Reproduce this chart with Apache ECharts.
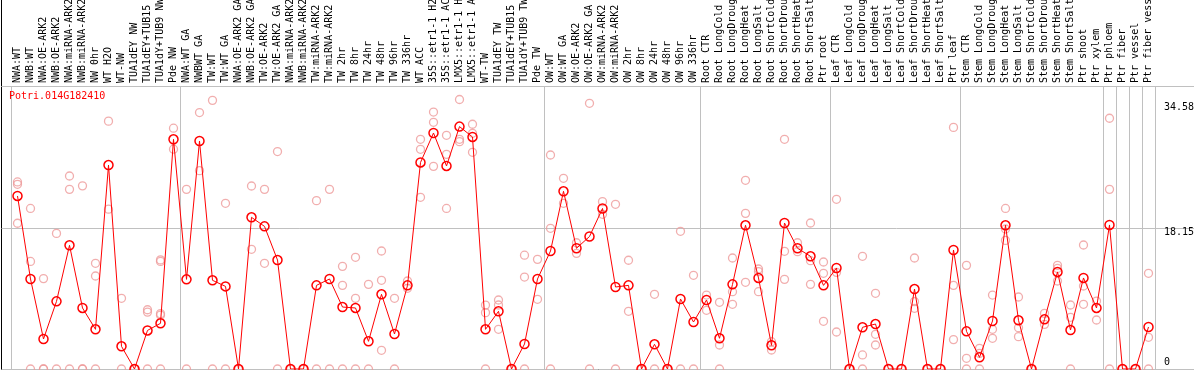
<!DOCTYPE html>
<html>
<head>
<meta charset="utf-8">
<script src="https://cdn.jsdelivr.net/npm/echarts@6/dist/echarts.min.js"></script>
<style>
html,body{margin:0;padding:0;background:#fff;}
#chart{width:1194px;height:370px;}
</style>
</head>
<body>
<div id="chart"></div>
<script>
const geneId = 'Potri.014G182410';

const categories = [
  'NWA:WT','NWB:WT','NWA:OE-ARK2','NWB:OE-ARK2','NWA:miRNA-ARK2','NWB:miRNA-ARK2','NW 0hr','WT H2O','WT-NW','TUA1dEY NW','TUA1dEY+TUB15 NW','TUA1dY+TUB9 NW','Pde NW',
  'NWA:WT GA','NWBWT GA','TW:WT','TW:WT GA','NWA:OE-ARK2 GA','NWB:OE-ARK2 GA','TW:OE-ARK2','TW:OE-ARK2 GA','NWA:miRNA-ARK2 GA','NWB:miRNA-ARK2 GA','TW:miRNA-ARK2','TW:miRNA-ARK2 GA',
  'TW 2hr','TW 8hr','TW 24hr','TW 48hr','TW 96hr','TW 336hr','WT ACC','35S::etr1-1 H2O','35S::etr1-1 ACC','LMX5::etr1-1 H2O','LMX5::etr1-1 ACC','WT-TW','TUA1dEY TW','TUA1dEY+TUB15 TW','TUA1dY+TUB9 TW','Pde TW',
  'OW:WT','OW:WT GA','OW:OE-ARK2','OW:OE-ARK2 GA','OW:miRNA-ARK2','OW:miRNA-ARK2 GA','OW 2hr','OW 8hr','OW 24hr','OW 48hr','OW 96hr','OW 336hr',
  'Root CTR','Root LongCold','Root LongDrought','Root LongHeat','Root LongSalt','Root ShortCold','Root ShortDrought','Root ShortHeat','Root ShortSalt','Ptr root',
  'Leaf CTR','Leaf LongCold','Leaf LongDrought','Leaf LongHeat','Leaf LongSalt','Leaf ShortCold','Leaf ShortDrought','Leaf ShortHeat','Leaf ShortSalt','Ptr leaf',
  'Stem CTR','Stem LongCold','Stem LongDrought','Stem LongHeat','Stem LongSalt','Stem ShortCold','Stem ShortDrought','Stem ShortHeat','Stem ShortSalt','Ptr shoot','Ptr xylem',
  'Ptr phloem','Ptr fiber','Ptr vessel','Ptr fiber vessel'
];

// index of the first category of each group (separators)
const groupStarts = [0, 13, 41, 53, 63, 73, 84, 85, 86, 87];

const meanValues = [
  22.2, 11.55, 3.85, 8.68, 15.87, 7.83, 5.09, 26.17, 2.91, 0, 4.95, 5.86, 29.47,
  11.5, 29.25, 11.38, 10.6, 0, 19.46, 18.3, 13.98, 0, 0, 10.73, 11.55, 7.95, 7.83, 3.55, 9.58, 4.49, 10.73, 26.5, 30.28, 26.05, 31.1, 29.77, 5.09, 7.4, 0, 3.21, 11.55,
  15.14, 22.8, 15.49, 17.0, 20.6, 10.52, 10.73, 0, 3.17, 0, 8.98, 6.03,
  8.85, 3.94, 10.86, 18.44, 11.68, 3.04, 18.73, 15.49, 14.46, 10.73,
  12.96, 0, 5.35, 5.77, 0, 0, 10.26, 0, 0, 15.27,
  4.83, 1.5, 6.16, 18.44, 6.25, 0, 6.37, 12.45, 5.0, 11.68, 7.83,
  18.48, 0, 0, 5.39
];

const replicateValues = [
  [24.0, 23.7, 18.7], [20.6, 13.8, 0], [11.6, 0, 0], [17.4, 0], [24.76, 23.05, 0], [23.5, 0, 0], [13.56, 11.93, 0], [31.8, 20.5], [9.07, 0], [0, 0],
  [7.6, 7.3, 0], [14.0, 13.8, 7.1, 6.9, 0], [30.9, 28.2],
  [23.05, 0], [32.9, 25.45], [34.47, 0], [21.26, 0], [0, 0], [23.48, 15.36], [23.05, 13.56], [27.9, 0], [0, 0], [0, 0], [21.6, 0], [23.05, 0],
  [13.17, 10.73, 0], [14.33, 9.07, 0], [10.86, 0], [15.14, 11.38, 2.4], [9.07, 0], [11.29, 10.35], [29.47, 28.19, 22.03], [32.97, 31.65, 26.0],
  [29.98, 27.54, 20.6], [34.58, 29.47, 29.17], [31.4, 30.24, 27.8], [8.2, 7.23, 0], [8.85, 8.21, 5.09], [0, 0], [14.6, 11.8, 0], [14.07, 8.94],
  [27.46, 18.05, 0], [24.47, 21.26], [16.2, 14.84], [34.09, 0], [21.47, 19.85], [21.13, 0], [13.95, 7.4], [0, 0], [9.58, 0], [0, 0], [17.67, 0], [12.02, 0],
  [9.49, 7.53], [8.56, 3.08, 0], [14.24, 9.92, 8.3], [24.21, 19.97, 11.12], [12.83, 12.49, 9.92], [3.5, 2.44], [29.47, 15.1, 11.5], [16.2, 15.05], [18.73, 13.9, 10.86], [13.73, 12.28, 6.12],
  [21.77, 12.4, 4.75], [0, 0], [14.46, 1.8, 0], [9.71, 4.45, 3.08], [0, 0], [0, 0], [14.24, 8.64, 7.79], [0, 0], [0, 0], [31.0, 10.73, 3.77],
  [13.3, 1.37, 0], [2.65, 2.0, 0], [9.49, 5.09, 3.94], [20.6, 17.96, 16.5], [9.24, 5.3, 4.15], [0, 0], [7.14, 5.73], [13.3, 12.9, 11.29], [8.21, 6.63, 0], [15.91, 10.65, 8.3], [8.72, 6.29],
  [32.17, 23.05, 0], [0, 0], [0, 0], [12.28, 4.07, 0]
];

const yTickValues = [0, 18.15, 34.58];
const yMax = 36.31;
const gridStep = 18.15;

const FONT = 'DejaVu Sans Mono';
const isBoundary = function (index) { return groupStarts.indexOf(index) >= 0; };

const replicatePoints = [];
replicateValues.forEach(function (arr, i) {
  arr.forEach(function (v) { replicatePoints.push([i, v]); });
});

const chart = echarts.init(document.getElementById('chart'), null, {renderer: 'canvas'});
chart.setOption({
  animation: false,
  backgroundColor: '#fff',
  title: {
    text: geneId, left: 9, top: 91, padding: 0,
    textStyle: {color: '#ff0000', fontFamily: FONT, fontSize: 10, fontWeight: 'normal'}
  },
  grid: [
    {left: 11, right: 39, top: 86, bottom: 1, containLabel: false, outerBoundsMode: 'none'},
    {left: 1.5, right: -5, top: -5, bottom: 0.5, show: true, borderColor: '#000', borderWidth: 1, backgroundColor: 'transparent', containLabel: false, outerBoundsMode: 'none'},
    {left: 1.5, right: -5, top: 86.5, bottom: 0.5, show: true, borderColor: '#000', borderWidth: 1, backgroundColor: 'transparent', containLabel: false, outerBoundsMode: 'none'}
  ],
  xAxis: [
    {
      gridIndex: 0, type: 'category', data: categories, position: 'top', boundaryGap: true,
      axisLine: {show: false},
      axisTick: {show: true, interval: isBoundary, length: 86, lineStyle: {color: '#c0c0c0', width: 1}},
      axisLabel: {interval: 0, rotate: 90, margin: 3, fontFamily: FONT, fontSize: 10, color: '#000', hideOverlap: false},
      splitLine: {show: true, interval: isBoundary, lineStyle: {color: '#c0c0c0', width: 1}}
    },
    {gridIndex: 1, type: 'value', show: false},
    {gridIndex: 2, type: 'value', show: false}
  ],
  yAxis: [
    {
      gridIndex: 0, type: 'value', min: 0, max: yMax, position: 'right',
      axisLine: {show: false}, axisTick: {show: false}, splitLine: {show: false},
      axisLabel: {
        customValues: yTickValues, margin: 9, fontFamily: FONT, fontSize: 10, color: '#000',
        formatter: function (v) {
          if (Math.abs(v) < 1e-9) return '{z|0}';
          if (Math.abs(v - yTickValues[2]) < 1e-6) return '{t|' + v + '}';
          return '{m|' + v + '}';
        },
        rich: {
          z: {padding: [0, 0, 14, 0], fontFamily: FONT, fontSize: 10, color: '#000'},
          t: {padding: [15, 0, 0, 0], fontFamily: FONT, fontSize: 10, color: '#000'},
          m: {padding: [9, 0, 0, 0], fontFamily: FONT, fontSize: 10, color: '#000'}
        }
      }
    },
    {gridIndex: 1, type: 'value', show: false},
    {
      gridIndex: 2, type: 'value', min: 0, max: yMax, interval: gridStep,
      axisLine: {show: false}, axisTick: {show: false}, axisLabel: {show: false},
      splitLine: {show: true, lineStyle: {color: '#c0c0c0', width: 1}}
    }
  ],
  series: [
    {
      type: 'scatter', xAxisIndex: 0, yAxisIndex: 0, data: replicatePoints,
      symbol: 'circle', symbolSize: 8, z: 2,
      itemStyle: {color: 'rgba(0,0,0,0)', borderColor: '#ee9a9a', borderWidth: 1.3},
      emphasis: {disabled: true}
    },
    {
      type: 'line', xAxisIndex: 0, yAxisIndex: 0, data: meanValues,
      symbol: 'circle', symbolSize: 9, showAllSymbol: true, z: 3,
      lineStyle: {color: '#ff0000', width: 1},
      itemStyle: {color: 'rgba(0,0,0,0)', borderColor: '#ff0000', borderWidth: 1.5},
      emphasis: {disabled: true}
    }
  ]
});
</script>
</body>
</html>
